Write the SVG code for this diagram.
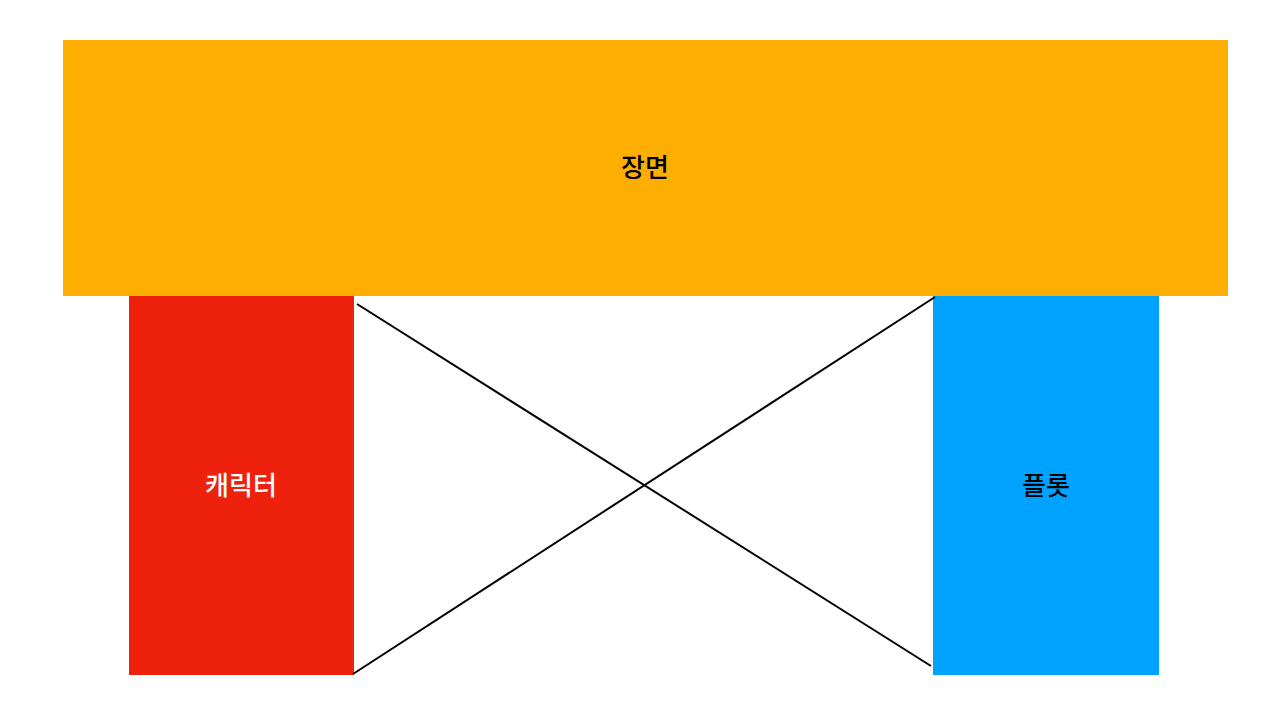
<svg xmlns="http://www.w3.org/2000/svg" width="1280" height="726" viewBox="0 0 1280 726">
<style>
.lbl{font-family:"Noto Sans CJK KR","Noto Sans",sans-serif;font-size:26px;font-weight:500;text-anchor:middle;dominant-baseline:central}
.conn{stroke:#000;stroke-width:2;fill:none}
</style>
<rect width="1280" height="726" fill="#fff"/>
<g id="scene">
<rect x="63" y="40" width="1165" height="256" fill="#FEAE00"/>
<text class="lbl" x="645" y="165" fill="#000">장면</text>
</g>
<g id="character">
<rect x="129" y="296" width="225" height="379" fill="#EE220C"/>
<text class="lbl" x="241" y="483" fill="#fff">캐릭터</text>
</g>
<g id="plot">
<rect x="933" y="296" width="226" height="379" fill="#00A2FF"/>
<text class="lbl" x="1046" y="483" fill="#000">플롯</text>
</g>
<g id="connectors">
<line class="conn" x1="357" y1="304" x2="931" y2="666"/>
<line class="conn" x1="353" y1="674" x2="935" y2="297"/>
</g>
</svg>
